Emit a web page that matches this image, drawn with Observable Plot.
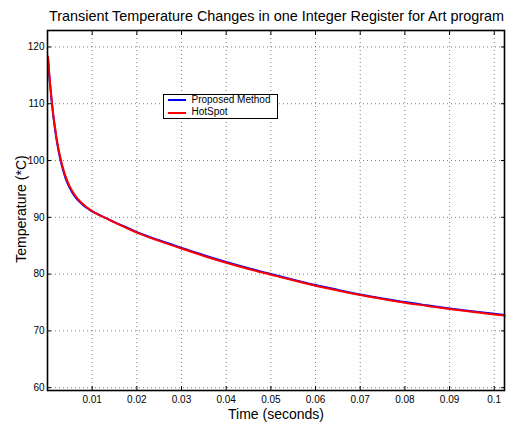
<!DOCTYPE html>
<html><head><meta charset="utf-8">
<script src="https://cdn.jsdelivr.net/npm/d3@7"></script>
<script src="https://cdn.jsdelivr.net/npm/@observablehq/plot@0.6"></script>
<style>
body{margin:0;background:#fff;font-family:"Liberation Sans",Arial,Helvetica,sans-serif;}
#wrap{position:relative;width:506px;height:424px;overflow:hidden;}
.t{position:absolute;color:#000;white-space:nowrap;line-height:1;}
</style></head>
<body>
<div id="wrap"></div>
<script>
// ---- data ----
const chartTitle = "Transient Temperature Changes in one Integer Register for Art program";
const xLabel = "Time (seconds)";
const yLabel = "Temperature (*C)";
const seriesNames = ["Proposed Method", "HotSpot"];
const timeSec = [0.0001, 0.0003, 0.0005, 0.00075, 0.001, 0.0013, 0.0016, 0.002, 0.0025, 0.003, 0.0035, 0.004, 0.005, 0.006, 0.007, 0.008, 0.009, 0.01, 0.0115, 0.013, 0.015, 0.0175, 0.02, 0.025, 0.03, 0.035, 0.04, 0.045, 0.05, 0.055, 0.06, 0.065, 0.07, 0.075, 0.08, 0.085, 0.09, 0.095, 0.1, 0.1023];
const proposedTemp = [118.2, 116.0, 114.0, 111.9, 109.9, 107.8, 106.0, 103.8, 101.6, 99.8, 98.3, 97.0, 95.15, 93.8, 92.85, 92.15, 91.55, 91.05, 90.45, 89.9, 89.15, 88.3, 87.4, 85.95, 84.62, 83.32, 82.12, 81.02, 80.02, 79.02, 78.07, 77.22, 76.42, 75.72, 75.07, 74.5, 73.95, 73.45, 73.0, 72.8];
const hotSpotTemp = [118.3, 116.2, 114.3, 112.2, 110.2, 108.1, 106.3, 104.1, 101.9, 100.1, 98.6, 97.3, 95.4, 94.05, 93.05, 92.3, 91.65, 91.1, 90.45, 89.85, 89.1, 88.2, 87.3, 85.85, 84.5, 83.2, 82.0, 80.9, 79.9, 78.9, 77.95, 77.1, 76.3, 75.6, 74.95, 74.4, 73.85, 73.35, 72.9, 72.7];
const xTicks = [0.01, 0.02, 0.03, 0.04, 0.05, 0.06, 0.07, 0.08, 0.09, 0.1];
const xTickLabels = ["0.01", "0.02", "0.03", "0.04", "0.05", "0.06", "0.07", "0.08", "0.09", "0.1"];
const yTicks = [60, 70, 80, 90, 100, 110, 120];
const yTickLabels = ["60", "70", "80", "90", "100", "110", "120"];
const xDomain = [0, 0.1023];
const yDomain = [59.5, 122.9];

// ---- build ----
const proposedRows = timeSec.map((t, i) => ({t, temp: proposedTemp[i], series: seriesNames[0]}));
const hotSpotRows = timeSec.map((t, i) => ({t, temp: hotSpotTemp[i], series: seriesNames[1]}));
const xLab = new Map(xTicks.map((d, i) => [d, xTickLabels[i]]));
const yLab = new Map(yTicks.map((d, i) => [d, yTickLabels[i]]));
const gridStyle = {stroke: "#000", strokeOpacity: 0.5, strokeDasharray: "1,3", strokeWidth: 1};

const plot = Plot.plot({
  width: 506, height: 424,
  marginLeft: 47, marginRight: 2, marginTop: 30, marginBottom: 34,
  style: {fontFamily: '"Liberation Sans", Arial, Helvetica, sans-serif', fontSize: "10px", color: "#000", background: "transparent"},
  x: {domain: xDomain, label: null},
  y: {domain: yDomain, label: null},
  marks: [
    Plot.gridX(xTicks, gridStyle),
    Plot.gridY(yTicks, gridStyle),
    Plot.line(proposedRows, {x: "t", y: "temp", stroke: "#0000ff", strokeWidth: 2, curve: "monotone-x"}),
    Plot.line(hotSpotRows, {x: "t", y: "temp", stroke: "#ff0000", strokeWidth: 2, curve: "monotone-x"}),
    Plot.frame({stroke: "#000", strokeWidth: 1.6}),
    Plot.axisX(xTicks, {anchor: "bottom", tickSize: -4, tickPadding: 9, tickFormat: d => xLab.get(d), label: null}),
    Plot.axisX(xTicks, {anchor: "top", tickSize: -4, tickFormat: () => "", label: null}),
    Plot.axisY(yTicks, {anchor: "left", tickSize: -4, tickPadding: 7, tickFormat: d => yLab.get(d), label: null}),
    Plot.axisY(yTicks, {anchor: "right", tickSize: -4, tickFormat: () => "", label: null})
  ]
});
const wrap = document.getElementById("wrap");
plot.style.position = "absolute";
plot.style.left = "0px";
plot.style.top = "0px";
wrap.appendChild(plot);

function addText(txt, css) {
  const d = document.createElement("div");
  d.className = "t";
  d.textContent = txt;
  Object.assign(d.style, css);
  wrap.appendChild(d);
  return d;
}
addText(chartTitle, {left: "276.5px", top: "8.8px", fontSize: "14.4px", transform: "translateX(-50%)"});
addText(xLabel, {left: "276px", top: "407.4px", fontSize: "14px", transform: "translateX(-50%)"});
addText(yLabel, {left: "-79.35px", top: "202px", width: "200px", height: "14px", textAlign: "center", fontSize: "14px", transform: "rotate(-90deg)"});

// legend
const box = document.createElement("div");
Object.assign(box.style, {position: "absolute", left: "162.5px", top: "94px", width: "115px", height: "25px", boxSizing: "border-box", border: "1.2px solid #000", background: "#fff"});
wrap.appendChild(box);
const legendColors = ["#0000ff", "#ff0000"];
const rowTop = [99, 112.3];
const textTop = [95.2, 106.5];
seriesNames.forEach((name, i) => {
  const ln = document.createElement("div");
  Object.assign(ln.style, {position: "absolute", left: "168px", top: rowTop[i] + "px", width: "18px", height: "2px", background: legendColors[i]});
  wrap.appendChild(ln);
  addText(name, {left: "191.5px", top: textTop[i] + "px", fontSize: "10px"});
});
</script>
</body></html>
